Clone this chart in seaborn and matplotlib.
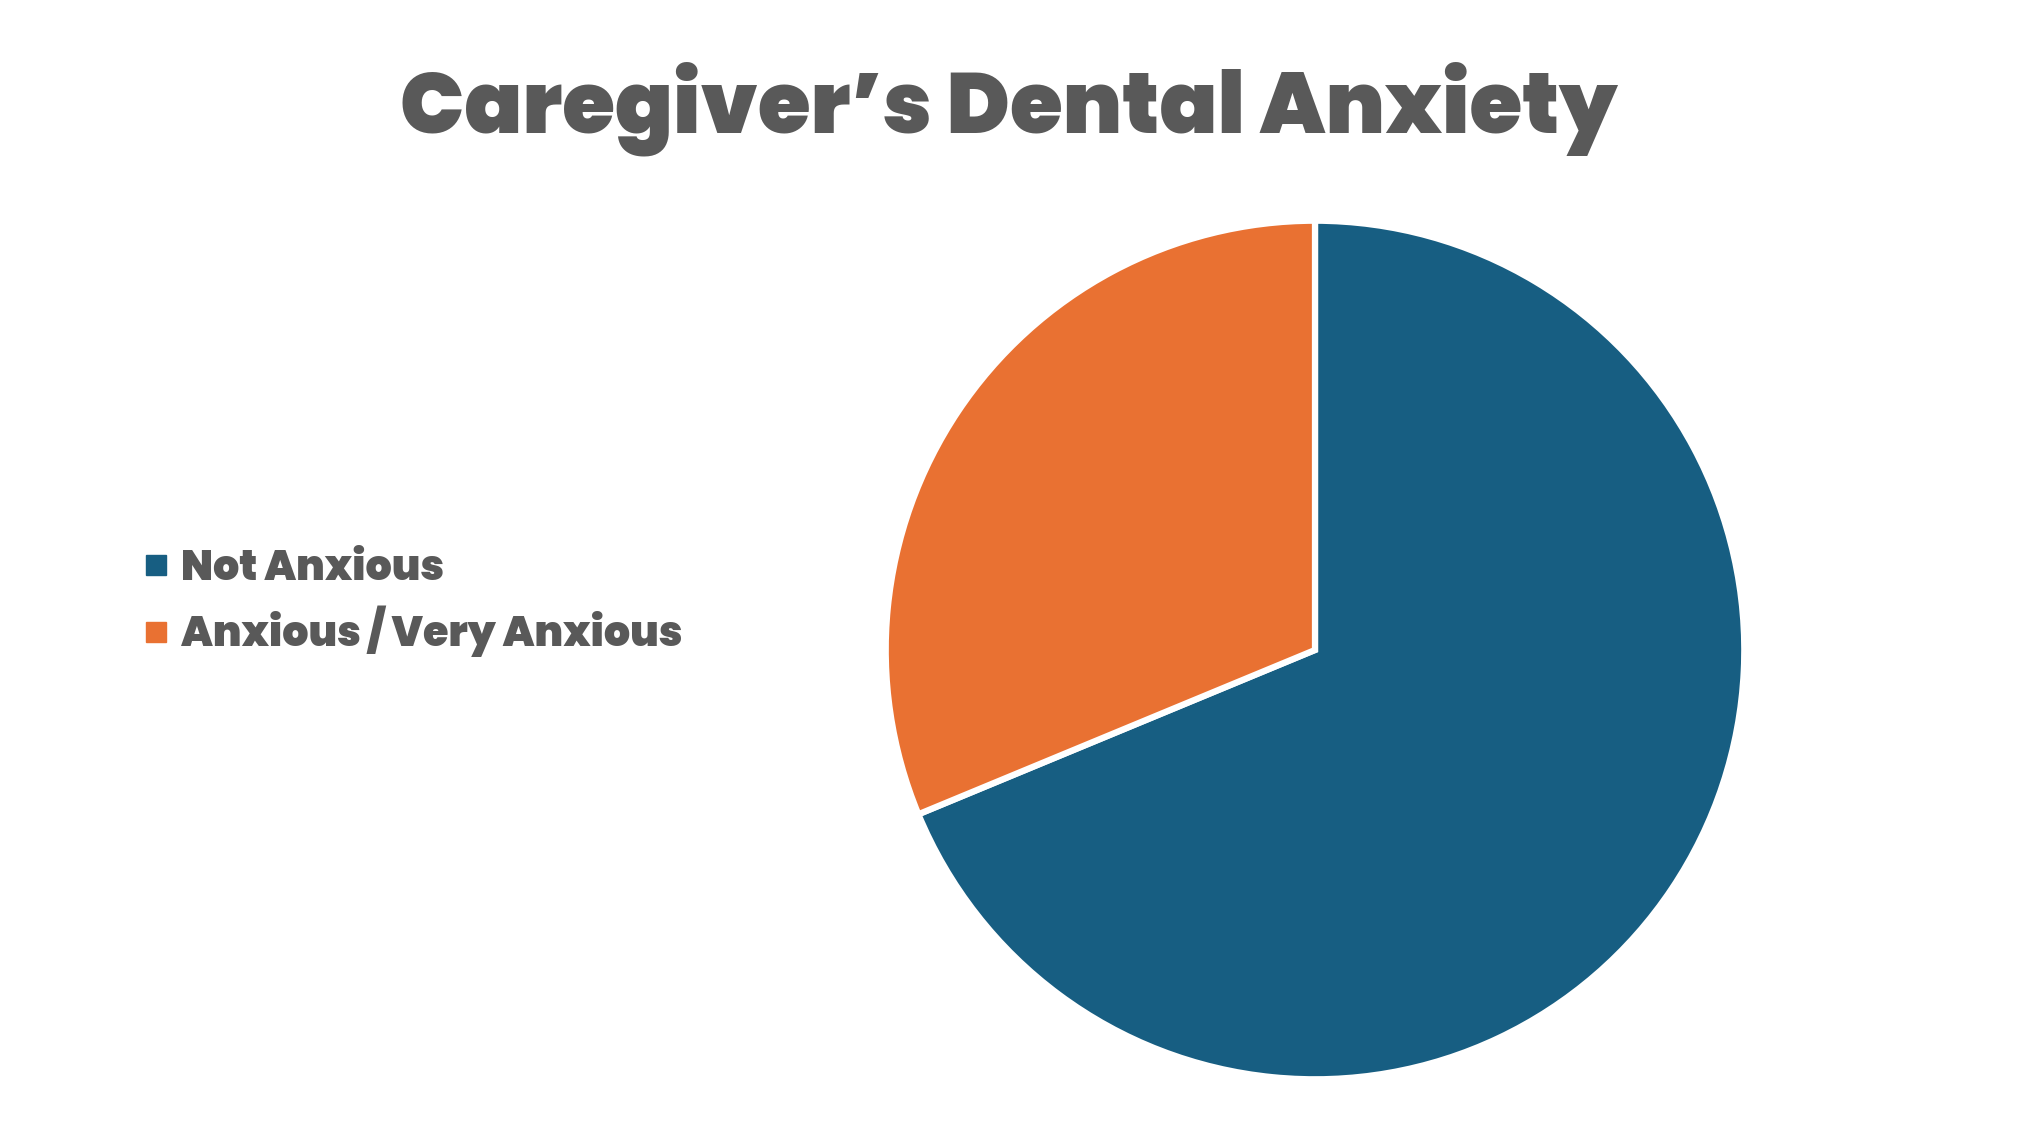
import matplotlib
matplotlib.use("Agg")
import matplotlib.pyplot as plt
from matplotlib import font_manager
from matplotlib.lines import Line2D
import seaborn as sns

# ---- data ----
categories = ["Not Anxious", "Anxious / Very Anxious"]
counts = [55, 25]
colors = ["#175E82", "#E97132"]
title_text = "Caregiver\u2019s Dental Anxiety"
text_color = "#595959"

sns.set_theme(style="white")

# pick the heaviest available sans font
best = None
for fam in ["Poppins", "Lato", "Inter", "Roboto", "Open Sans", "Noto Sans", "DejaVu Sans"]:
    ws = [f.weight for f in font_manager.fontManager.ttflist if f.name == fam]
    ws = [w if isinstance(w, int) else {"black": 900, "heavy": 900, "bold": 700, "extra bold": 800, "semibold": 600, "normal": 400, "regular": 400}.get(str(w).lower(), 400) for w in ws]
    if ws:
        m = max(ws)
        if best is None or m > best[1]:
            best = (fam, m)
font_family, font_weight = best
plt.rcParams["font.family"] = [font_family, "DejaVu Sans"]

fig = plt.figure(figsize=(20.17, 11.29), dpi=100)
fig.patch.set_facecolor("white")

cx, cy, r = 1315, 650, 425
W, H = 2017, 1129
ax = fig.add_axes([(cx - r) / W, (H - cy - r) / H, 2 * r / W, 2 * r / H])
wedges, _ = ax.pie(counts, colors=colors, startangle=90, counterclock=False,
                   radius=1.0,
                   wedgeprops=dict(edgecolor="white", linewidth=4.5))
ax.set_xlim(-0.99, 0.99)
ax.set_ylim(-0.99, 0.99)
ax.set_aspect("equal")
ax.axis("off")

fig.text(0.5, 1 - 132 / H, title_text, ha="center", va="baseline",
         fontsize=61.5, fontweight=font_weight, color=text_color)

handles = [Line2D([0], [0], marker="s", linestyle="none", markersize=14.5,
                  markerfacecolor=c, markeredgecolor=c) for c in colors]
leg = fig.legend(handles, categories, loc="center left",
                 bbox_to_anchor=(125 / W, 1 - 603 / H), frameon=False,
                 prop=dict(size=29.7, weight=font_weight),
                 handletextpad=0.25, labelspacing=0.36, handlelength=0.7,
                 borderaxespad=0)
for t in leg.get_texts():
    t.set_color(text_color)

fig.savefig("out.png", dpi=100, facecolor="white")
